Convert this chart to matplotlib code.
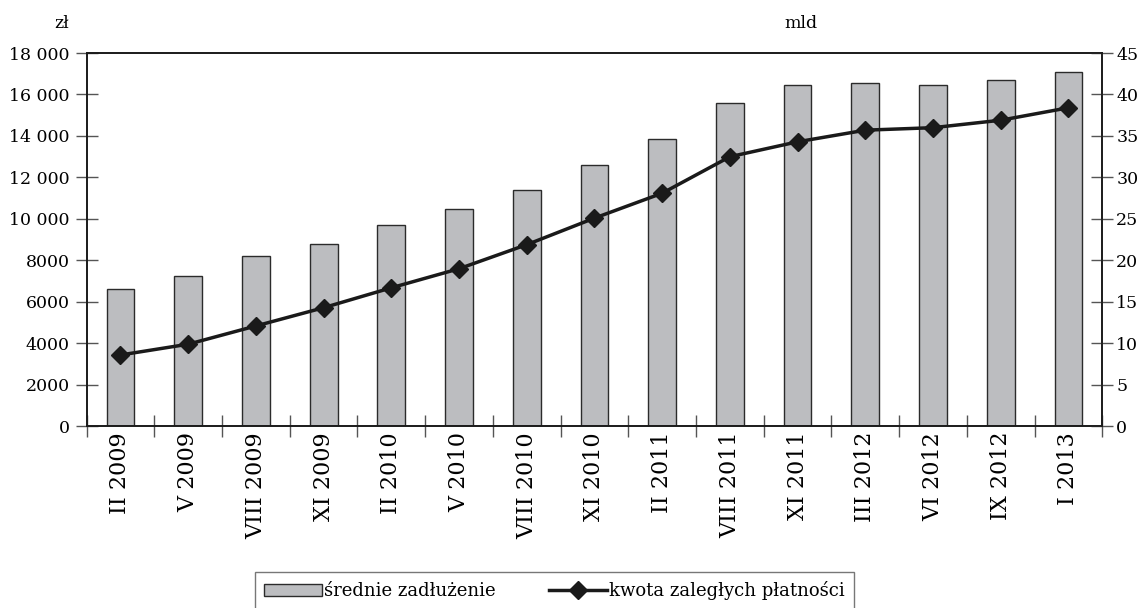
import matplotlib
matplotlib.use("Agg")
import matplotlib.pyplot as plt
from matplotlib.ticker import FuncFormatter, FixedLocator
from matplotlib.lines import Line2D
from matplotlib.patches import Patch
import numpy as np

plt.rcParams['font.family'] = ['DejaVu Serif']

periods = ["II 2009", "V 2009", "VIII 2009", "XI 2009", "II 2010", "V 2010",
           "VIII 2010", "XI 2010", "II 2011", "VIII 2011", "XI 2011",
           "III 2012", "VI 2012", "IX 2012", "I 2013"]
avg_debt = [6630, 7230, 8190, 8800, 9700, 10470, 11390, 12610, 13850,
            15610, 16480, 16550, 16440, 16710, 17090]
overdue_bn = [8.6, 9.9, 12.1, 14.3, 16.7, 19.0, 21.9, 25.1, 28.1,
              32.5, 34.3, 35.7, 36.0, 36.9, 38.4]

label_bars = "średnie zadłużenie"
label_line = "kwota zaległych płatności"

fig = plt.figure(figsize=(11.37, 6.08), dpi=100)
ax = fig.add_axes([0.0762, 0.2988, 0.8933, 0.614])
ax2 = ax.twinx()

x = np.arange(len(periods))
bar_color = "#bcbdc0"
ax.bar(x, avg_debt, width=0.41, color=bar_color, edgecolor="#2b2b2b",
       linewidth=1.0, zorder=2)
ax2.plot(x, overdue_bn, color="#1a1a1a", linewidth=2.5, marker="D",
         markersize=9, markerfacecolor="#1a1a1a", markeredgecolor="#1a1a1a",
         zorder=3)

ax.set_xlim(-0.5, len(periods) - 0.5)
ax.set_ylim(0, 18000)
ax2.set_ylim(0, 45)

def pl_thousands(v, pos):
    v = int(round(v))
    if v >= 10000:
        return f"{v:,}".replace(",", " ")
    return str(v)

ax.yaxis.set_major_locator(FixedLocator(np.arange(0, 18001, 2000)))
ax.yaxis.set_major_formatter(FuncFormatter(pl_thousands))
ax2.yaxis.set_major_locator(FixedLocator(np.arange(0, 46, 5)))

# category labels centred under bars, tick marks between categories
ax.set_xticks(x)
ax.set_xticklabels(periods, rotation=90, fontsize=16)
ax.tick_params(axis="x", which="major", length=0, pad=4)
ax.set_xticks(np.arange(-0.5, len(periods), 1.0), minor=True)
ax.tick_params(axis="x", which="minor", direction="inout", length=16,
               width=1.0, color="#555555")

ax.tick_params(axis="y", direction="inout", length=16, width=1.0,
               color="#555555", labelsize=12.5, pad=4)
ax2.tick_params(axis="y", direction="inout", length=16, width=1.0,
                color="#555555", labelsize=12.5, pad=2)

for a in (ax, ax2):
    for s in a.spines.values():
        s.set_color("#1a1a1a")
        s.set_linewidth(1.2)

fig.text(0.0545, 0.962, "zł", fontsize=12.5, ha="center", va="center")
fig.text(0.704, 0.962, "mld", fontsize=12.5, ha="center", va="center")

handles = [Patch(facecolor=bar_color, edgecolor="#2b2b2b", linewidth=1.0),
           Line2D([0], [0], color="#1a1a1a", linewidth=2.5, marker="D",
                  markersize=9)]
leg = fig.legend(handles, [label_bars, label_line], loc="lower center",
                 bbox_to_anchor=(0.4875, -0.002), ncol=2, fontsize=13,
                 frameon=True, fancybox=False, edgecolor="#555555",
                 handlelength=3.2, handleheight=0.6, handletextpad=0.1,
                 columnspacing=3.0, borderpad=0.5, borderaxespad=0.0)
leg.get_frame().set_linewidth(1.0)

fig.savefig("out.png", dpi=100)
